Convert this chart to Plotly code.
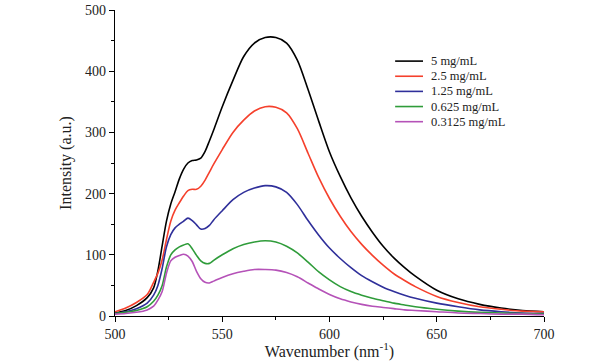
import plotly.graph_objects as go

wavelength = [500, 505, 510, 515, 518, 520, 522, 524, 526, 528, 530, 532, 534, 536, 538, 540,
              542, 544, 546, 550, 555, 560, 565, 570, 575, 580, 585, 590, 595, 600, 605, 610,
              615, 620, 625, 630, 635, 640, 650, 660, 670, 680, 690, 700]

c_5 = [5, 9, 17, 30, 46, 74, 115, 155, 183, 203, 224, 240, 250, 254, 255, 258,
       269, 286, 304, 342, 385, 424, 446, 455, 455, 446, 418, 370, 318, 268, 228, 193,
       163, 137, 114, 95, 79, 65, 42, 28, 19, 13, 9, 7]
c_2_5 = [7, 13, 22, 35, 55, 70, 92, 125, 155, 173, 185, 196, 205, 207, 207, 212,
         222, 235, 248, 272, 300, 320, 335, 342, 341, 332, 306, 266, 226, 192, 163, 138,
         117, 99, 83, 69, 58, 48, 32, 22, 15, 11, 8, 7]
c_1_25 = [4, 7, 12, 21, 34, 50, 78, 113, 133, 144, 150, 155, 160, 156, 149, 142,
          143, 148, 157, 172, 190, 202, 209, 213, 211, 202, 182, 156, 132, 111, 94, 79,
          66, 56, 47, 40, 34, 29, 21, 15, 10, 7, 5, 4]
c_0_625 = [4, 6, 9, 15, 24, 34, 50, 80, 100, 108, 113, 116, 118, 110, 99, 90,
           86, 86, 91, 100, 110, 117, 121, 123, 121, 114, 103, 88, 72, 59, 48, 40,
           34, 29, 25, 21, 18, 15, 11, 8, 6, 5, 4, 3]
c_0_3125 = [3, 4, 6, 10, 16, 26, 40, 70, 90, 96, 99, 101, 98, 89, 73, 61,
            55, 54, 57, 63, 69, 73, 76, 76, 75, 71, 64, 54, 44, 35, 28, 23,
            19, 16, 14, 12, 10, 9, 7, 5, 4, 3, 3, 2]

series_names = ["5 mg/mL", "2.5 mg/mL", "1.25 mg/mL", "0.625 mg/mL", "0.3125 mg/mL"]
series_values = [c_5, c_2_5, c_1_25, c_0_625, c_0_3125]
colors = ["#000000", "#f5402c", "#2f2f9a", "#2f9c3a", "#b552b8"]

x_ticks = [500, 550, 600, 650, 700]
y_ticks = [0, 100, 200, 300, 400, 500]

FONT = "Liberation Serif"

fig = go.Figure()
for name, vals, col in zip(series_names, series_values, colors):
    fig.add_trace(go.Scatter(x=wavelength, y=vals, mode="lines", name=name, showlegend=False,
                             line=dict(color=col, width=1.6, shape="spline", smoothing=0.8)))

# legend drawn manually (compact row spacing like the original)
leg_x0, leg_x1, leg_tx = 0.653, 0.718, 0.732
leg_y_top, leg_dy = 0.833, 0.0495
for i, (name, col) in enumerate(zip(series_names, colors)):
    yy = leg_y_top - i * leg_dy
    fig.add_shape(type="line", xref="paper", yref="paper", x0=leg_x0, x1=leg_x1, y0=yy, y1=yy,
                  line=dict(color=col, width=1.6))
    fig.add_annotation(xref="paper", yref="paper", x=leg_tx, y=yy, text=name, showarrow=False,
                       xanchor="left", yanchor="middle",
                       font=dict(family=FONT, size=12.5, color="#222"))

fig.update_layout(
    width=615, height=361,
    margin=dict(l=115, r=71, t=10, b=45),
    paper_bgcolor="white", plot_bgcolor="white",
    font=dict(family=FONT, size=14, color="#222"),
    showlegend=False,
    xaxis=dict(range=[500, 700], tickvals=x_ticks, showgrid=False, zeroline=False, automargin=False,
               showline=True, linecolor="black", linewidth=1.3,
               ticks="outside", ticklen=5, tickwidth=1.2, tickcolor="black",
               minor=dict(dtick=25, ticks="outside", ticklen=3, tickwidth=1.2, tickcolor="black"),
               tickfont=dict(family=FONT, size=14),
               title=dict(text="Wavenumber (nm<sup>-1</sup>)", font=dict(family=FONT, size=16), standoff=0)),
    yaxis=dict(range=[0, 500], tickvals=y_ticks, showgrid=False, zeroline=False, automargin=False,
               showline=True, linecolor="black", linewidth=1.3,
               ticks="outside", ticklen=5, tickwidth=1.2, tickcolor="black",
               minor=dict(dtick=50, ticks="outside", ticklen=3, tickwidth=1.2, tickcolor="black"),
               tickfont=dict(family=FONT, size=14), ticklabeloverflow="allow",
               title=dict(text="Intensity (a.u.)", font=dict(family=FONT, size=16), standoff=9)),
)

fig.write_html("out.html", config={"displayModeBar": False},
               post_script="document.body.style.margin='0';")
